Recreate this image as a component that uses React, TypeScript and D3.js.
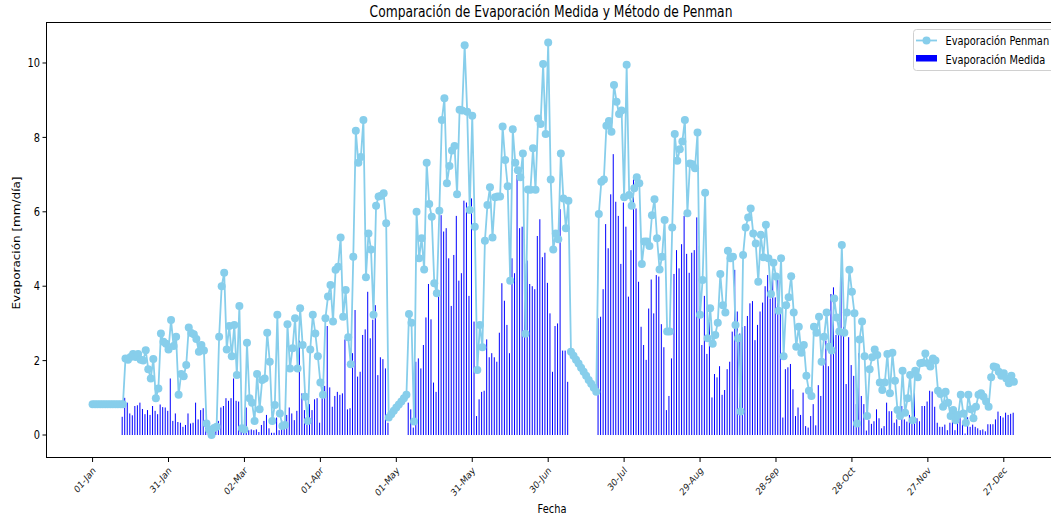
import React from "react";
import * as d3 from "d3";

// Daily series for one year, starting on START_DATE (index = day of year)
const START_DATE = "2023-01-01";

const PENMAN: number[] = [
  0.83, 0.83, 0.83, 0.83, 0.83, 0.83, 0.83, 0.83, 0.83, 0.83, 0.83, 0.83, 0.83,
  2.06, 2.02, 2.1, 2.18, 2.1, 2.18, 2.02,
  2.0, 2.28, 1.77, 1.52, 2.04, 0.99, 1.25, 2.73, 2.51, 2.45,
  2.3, 3.09, 2.39, 2.64, 1.08, 1.64, 1.58, 1.88, 2.89, 2.74,
  2.71, 2.58, 2.24, 2.42, 2.27, 0.31, 0.15, 0.0, 0.19, 0.22,
  2.64, 4.0, 4.36, 2.3, 2.93, 2.12, 2.96, 1.61, 3.47, 0.18,
  0.15, 2.48, 0.99, 0.87, 0.38, 1.64, 0.69, 1.48, 1.52, 2.75,
  1.97, 0.38, 0.81, 3.23, 0.58, 0.24, 0.27, 2.98, 1.79, 2.33,
  3.14, 1.79, 3.41, 2.42, 1.03, 0.38, 2.3, 3.23, 2.73, 2.12,
  1.41, 1.08, 3.14, 3.72, 4.03, 3.05, 4.44, 4.52, 5.31, 3.18,
  3.9, 2.63, 1.9, 4.79, 8.18, 7.32, 7.47, 8.47, 4.24, 5.42,
  4.99, 3.23, 6.16, 6.41, 6.43, 6.5, 5.69, 0.47, 0.56, 0.65,
  0.74, 0.82, 0.9, 0.99, 1.08, 3.25, 3.02, 0.36, 6.0, 4.75,
  5.29, 4.45, 7.32, 6.21, 5.87, 4.08, 3.81, 6.03, 8.47, 9.05,
  6.77, 7.23, 7.65, 7.77, 6.47, 8.74, 8.72, 10.48, 8.69, 6.05,
  8.58, 5.6, 1.75, 2.96, 2.36, 5.22, 6.18, 6.66, 5.31, 6.39,
  6.41, 6.41, 8.29, 7.39, 6.69, 4.15, 8.22, 7.32, 7.12, 6.93,
  7.57, 2.72, 6.6, 6.59, 7.71, 6.59, 8.51, 8.36, 9.97, 8.09,
  10.55, 6.87, 4.99, 5.42, 5.26, 7.57, 6.36, 5.56, 6.3, 2.24,
  2.13, 2.02, 1.92, 1.81, 1.7, 1.59, 1.48, 1.38, 1.27, 1.16,
  5.94, 6.81, 6.87, 8.31, 8.44, 8.15, 9.41, 8.96, 8.63, 8.72,
  6.39, 9.95, 6.45, 6.16, 6.63, 6.93, 6.77, 4.6, 5.2, 5.2,
  5.08, 5.91, 6.34, 5.29, 4.45, 4.79, 5.78, 2.78, 2.78, 5.58,
  8.09, 7.37, 7.68, 7.89, 8.47, 5.96, 7.3, 7.28, 7.17, 8.13,
  3.23, 4.17, 6.51, 2.6, 3.41, 2.45, 2.69, 3.02, 4.33, 3.49,
  3.29, 4.95, 4.75, 4.79, 2.96, 2.6, 0.63, 4.84, 5.58, 5.85,
  6.09, 5.42, 5.15, 4.12, 5.38, 4.78, 5.65, 4.75, 3.79, 4.63,
  4.26, 3.34, 4.75, 2.12, 3.49, 3.7, 4.27, 3.29, 2.37, 2.91,
  2.21, 2.42, 1.59, 1.19, 1.05, 2.91, 2.75, 3.18, 1.97, 2.64,
  3.29, 2.37, 2.27, 3.67, 3.16, 2.78, 5.11, 2.75, 3.29, 4.44,
  3.85, 3.27, 0.31, 2.57, 3.05, 2.12, 0.51, 1.77, 2.09, 2.3,
  2.15, 1.41, 1.21, 1.41, 2.18, 1.12, 2.21, 1.46, 0.67, 0.51,
  1.73, 0.6, 0.99, 1.61, 0.4, 1.73, 1.55, 1.93, 1.94, 2.19,
  1.93, 1.84, 2.06, 2.0, 1.19, 1.1, 0.76, 1.16, 0.87, 0.51,
  0.67, 0.4, 0.54, 1.08, 0.58, 0.33, 1.08, 0.69, 0.45, 0.76,
  1.08, 1.12, 1.03, 0.9, 0.76, 1.55, 1.84, 1.82, 1.7, 1.59,
  1.66, 1.52, 1.39, 1.59, 1.43,
];

const N = null;
const MEDIDA: (number | null)[] = [
  N, N, N, N, N, N, N, N, N, N, N, N,
  0.49, 1.0, 0.87, 0.58, 0.53, 0.78, 0.8, 0.87,
  0.7, 0.56, 0.67, 0.54, 0.78, 0.65, 0.56, 0.82, 0.75, 0.74,
  0.65, 1.52, 0.38, 0.58, 0.35, 0.33, 0.22, 0.27, 0.58, 0.31,
  0.33, 0.87, 0.42, 0.67, 0.72, 0.2, 0.1, 0.05, 0.1, 0.21,
  0.38, 0.74, 0.78, 0.99, 0.92, 0.99, 1.52, 0.92, 0.9, 0.21,
  0.18, 0.74, 0.13, 0.15, 0.13, 0.15, 0.08, 0.27, 0.38, 0.54,
  0.18, 0.06, 0.06, 0.47, 0.13, 0.4, 0.27, 0.54, 0.74, 0.58,
  0.4, 0.65, 2.54, 1.12, 0.67, 0.27, 0.83, 0.67, 0.96, 0.99,
  0.33, 0.99, 1.32, 2.93, 1.28, 0.76, 1.05, 1.16, 1.08, 1.12,
  2.57, 0.69, 0.72, 2.2, 3.36, 1.57, 1.7, 2.69, 2.84, 3.85,
  2.6, 3.1, 3.49, 1.61, 2.09, 2.04, 1.79, 0.33, N, N,
  N, N, N, N, N, 0.87, 0.69, 0.2, 1.97, 2.06,
  1.79, 2.42, 3.16, 4.06, 3.11, 1.41, 1.16, 3.85, 5.91, 5.47,
  5.56, 4.75, 3.47, 4.84, 5.89, 4.15, 4.35, 6.3, 6.25, 3.74,
  6.36, 3.05, 0.51, 0.96, 1.16, 1.19, 2.57, 2.09, 2.2, 2.09,
  1.97, 2.75, 4.08, 3.61, 2.96, 2.2, 4.75, 4.35, 6.99, 5.56,
  5.6, 4.61, 4.69, 4.06, 4.0, 3.92, 5.35, 5.8, 4.78, 4.9,
  4.09, 3.27, 1.7, 2.93, 3.0, 6.07, 2.27, 2.27, 1.43, N,
  N, N, N, N, N, N, N, N, N, N,
  3.14, 3.18, 3.92, 5.67, 5.02, 6.47, 7.55, 6.27, 5.89, 4.6,
  6.25, 5.6, 3.72, 4.97, 6.87, 6.09, 4.12, 2.91, 2.42, 2.02,
  3.4, 4.18, 3.27, 4.3, 4.26, 2.98, 2.36, 0.67, 1.05, 2.06,
  4.33, 4.97, 4.48, 5.13, 5.89, 4.87, 4.36, 4.9, 4.97, 5.85,
  5.08, 2.42, 3.74, 2.18, 3.05, 1.01, 1.64, 1.55, 1.85, 1.08,
  1.21, 1.77, 1.97, 2.78, 4.44, 3.32, 2.73, 2.9, 2.93, 3.2,
  3.54, 3.6, 2.55, 2.96, 3.32, 3.56, 4.0, 4.3, 3.67, 4.17,
  3.7, 4.17, 3.27, 0.47, 1.77, 1.82, 1.91, 1.23, 0.51, 0.74,
  0.54, 1.14, 0.24, 0.2, 0.51, 0.83, 0.26, 1.34, 1.05, 1.88,
  2.54, 1.85, 3.79, 3.97, 2.69, 2.91, 4.27, 2.91, 1.37, 2.63,
  1.88, 1.59, 0.83, 2.2, 1.05, 0.83, 0.12, 0.4, 0.3, 0.37,
  0.69, 0.45, 0.18, 0.24, 0.87, 0.64, 0.64, 0.33, 0.42, 0.24,
  0.78, 0.42, 0.36, 0.54, 0.45, 1.23, 0.45, 0.37, 0.78, 0.78,
  0.9, 1.19, 1.17, 0.76, 0.33, 0.22, 0.22, 0.28, 0.13, 0.33,
  0.4, 0.13, 0.6, 0.54, 0.29, 0.04, 0.48, 0.22, 0.28, 0.22,
  0.18, 0.13, 0.15, 0.1, 0.29, 0.29, 0.29, 0.42, 0.63, 0.51,
  0.47, 0.6, 0.54, 0.57, 0.6,
];

const TICK_DATES = [
  "2023-01-01", "2023-01-31", "2023-03-02", "2023-04-01", "2023-05-01",
  "2023-05-31", "2023-06-30", "2023-07-30", "2023-08-29", "2023-09-28",
  "2023-10-28", "2023-11-27", "2023-12-27",
];
const Y_TICKS = [0, 2, 4, 6, 8, 10];

const TITLE = "Comparación de Evaporación Medida y Método de Penman";
const X_LABEL = "Fecha";
const Y_LABEL = "Evaporación [mm/día]";
const LEGEND_PENMAN = "Evaporación Penman";
const LEGEND_MEDIDA = "Evaporación Medida";

const W = 1051;
const H = 517;
const PLOT = { left: 46.5, right: 1060, top: 22.5, bottom: 457.5 };
const LINE_COLOR = "#87CEEB";
const BAR_COLOR = "#0000FF";
const FONT = "'DejaVu Sans', sans-serif";
const SX = 0.82; // horizontal glyph compression

const start = new Date(START_DATE + "T00:00:00Z");
const dayDate = (d: number) => new Date(start.getTime() + d * 86400000);

const x = d3
  .scaleUtc()
  .domain([dayDate(-18.2), dayDate(382.2)])
  .range([PLOT.left, PLOT.right]);
const y = d3.scaleLinear().domain([-0.591, 11.102]).range([457, 22]);

const fmt = d3.utcFormat("%d-%b");

function Label(props: {
  x: number;
  y: number;
  rotate?: number;
  anchor?: string;
  size: number;
  dy?: string;
  children: React.ReactNode;
  fill?: string;
}) {
  const { rotate = 0, anchor = "start", size, dy, fill = "#000" } = props;
  return (
    <text
      transform={`translate(${props.x},${props.y}) scale(${SX},1) rotate(${rotate})`}
      textAnchor={anchor}
      fontSize={size}
      fontFamily={FONT}
      dy={dy}
      fill={fill}
    >
      {props.children}
    </text>
  );
}

export default function App() {
  const points = PENMAN.map((v, i) => ({ d: dayDate(i), v }));
  const bars = MEDIDA.map((v, i) => ({ d: dayDate(i - 0.3), v })).filter(
    (b) => b.v !== null
  ) as { d: Date; v: number }[];

  const line = d3
    .line<{ d: Date; v: number }>()
    .x((p) => x(p.d))
    .y((p) => y(p.v));

  const y0 = y(0);
  const barW = 1.0;

  return (
    <svg
      width={W}
      height={H}
      style={{ position: "absolute", left: 0, top: 0, background: "#fff" }}
    >
      <defs>
        <clipPath id="plotArea">
          <rect
            x={PLOT.left}
            y={PLOT.top}
            width={PLOT.right - PLOT.left}
            height={PLOT.bottom - PLOT.top}
          />
        </clipPath>
      </defs>
      <rect width={W} height={H} fill="#fff" />

      <g clipPath="url(#plotArea)">
        {bars.map((b, i) => (
          <rect
            key={i}
            x={x(b.d) - barW / 2}
            y={y(b.v)}
            width={barW}
            height={Math.max(0, y0 - y(b.v))}
            fill={BAR_COLOR}
          />
        ))}
        <path
          d={line(points) || ""}
          fill="none"
          stroke={LINE_COLOR}
          strokeWidth={1.8}
          strokeLinejoin="round"
        />
        {points.map((p, i) => (
          <circle key={i} cx={x(p.d)} cy={y(p.v)} r={4} fill={LINE_COLOR} />
        ))}
      </g>

      {/* axes frame */}
      <rect
        x={PLOT.left}
        y={PLOT.top}
        width={PLOT.right - PLOT.left}
        height={PLOT.bottom - PLOT.top}
        fill="none"
        stroke="#000"
        strokeWidth={1}
      />

      {/* y axis */}
      {Y_TICKS.map((t) => (
        <g key={t}>
          <line
            x1={PLOT.left - 4}
            x2={PLOT.left}
            y1={y(t)}
            y2={y(t)}
            stroke="#000"
            strokeWidth={1}
          />
          <Label x={40} y={y(t)} anchor="end" size={12} dy="0.35em">
            {String(t)}
          </Label>
        </g>
      ))}

      {/* x axis */}
      {TICK_DATES.map((s) => {
        const dt = new Date(s + "T00:00:00Z");
        const px = x(dt);
        return (
          <g key={s}>
            <line
              x1={px}
              x2={px}
              y1={PLOT.bottom}
              y2={PLOT.bottom + 4.5}
              stroke="#000"
              strokeWidth={1}
            />
            <Label
              x={px + 1.5}
              y={PLOT.bottom + 11}
              anchor="end"
              size={10}
              rotate={-45}
              dy="0.35em"
              fill="#222"
            >
              {fmt(dt)}
            </Label>
          </g>
        );
      })}

      <Label x={551} y={17} anchor="middle" size={15}>
        {TITLE}
      </Label>
      <Label x={552} y={513} anchor="middle" size={12}>
        {X_LABEL}
      </Label>
      <Label x={20} y={243} anchor="middle" size={12} rotate={-90}>
        {Y_LABEL}
      </Label>

      {/* legend */}
      <g>
        <rect
          x={913.5}
          y={29.5}
          width={145}
          height={41}
          rx={3}
          fill="#fff"
          fillOpacity={0.8}
          stroke="#d0d0d0"
        />
        <line x1={916} x2={937} y1={40.5} y2={40.5} stroke={LINE_COLOR} strokeWidth={1.8} />
        <circle cx={926.5} cy={40.5} r={4} fill={LINE_COLOR} />
        <Label x={945.5} y={44.5} size={12}>
          {LEGEND_PENMAN}
        </Label>
        <rect x={916} y={55} width={21} height={6.5} fill={BAR_COLOR} />
        <Label x={945.5} y={63.5} size={12}>
          {LEGEND_MEDIDA}
        </Label>
      </g>
    </svg>
  );
}
